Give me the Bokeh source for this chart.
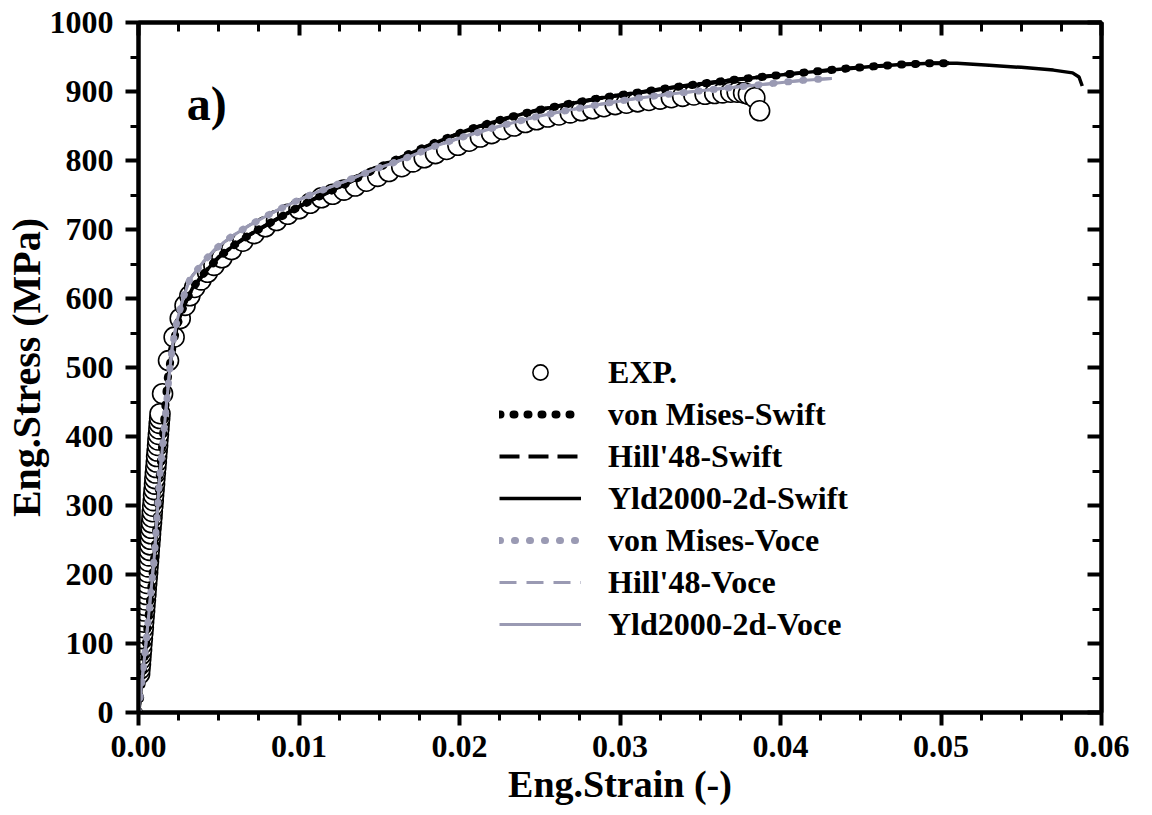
from bokeh.plotting import figure
from bokeh.models import (Range1d, LinearAxis, SingleIntervalTicker, PrintfTickFormatter,
                          CustomJSTickFormatter, Legend, LegendItem, Label)
from bokeh.embed import file_html
from bokeh.resources import INLINE

# ---- experimental engineering stress-strain data ----
exp_strain = [0.00007, 0.00009, 0.00012, 0.00014, 0.00016, 0.00019, 0.00021, 0.00024, 0.00027, 0.00030,
              0.00032, 0.00035, 0.00038, 0.00040, 0.00043, 0.00046, 0.00048, 0.00051, 0.00054, 0.00057,
              0.00059, 0.00062, 0.00065, 0.00067, 0.00070, 0.00073, 0.00075, 0.00078, 0.00081, 0.00084,
              0.00086, 0.00089, 0.00092, 0.00094, 0.00097, 0.00100, 0.00102, 0.00105, 0.00108, 0.00111,
              0.00113, 0.00116, 0.00119, 0.00121, 0.00124, 0.00127, 0.00129, 0.00132, 0.00134,
              0.00150, 0.00187, 0.00222, 0.0026, 0.0029, 0.0032, 0.0035, 0.0039, 0.0043, 0.0047,
              0.0052, 0.0058, 0.0065, 0.0072, 0.0079, 0.0086, 0.0093, 0.0100, 0.0107, 0.0114,
              0.0121, 0.0128, 0.0135, 0.0142, 0.0149, 0.0156, 0.0164, 0.0171, 0.0178, 0.0185,
              0.0192, 0.0199, 0.0206, 0.0213, 0.0220, 0.0227, 0.0234, 0.0241, 0.0248, 0.0255,
              0.0262, 0.0269, 0.0276, 0.0283, 0.0290, 0.0297, 0.0304, 0.0311, 0.0318, 0.0325,
              0.0332, 0.0339, 0.0346, 0.0353, 0.0359, 0.0364, 0.0369, 0.0373, 0.0377, 0.0380,
              0.0384, 0.0387]
exp_stress = [56, 63, 70, 77, 84, 91, 99, 107, 115, 123,
              131, 139, 147, 155, 163, 171, 179, 187, 195, 203,
              211, 219, 227, 235, 243, 251, 259, 267, 275, 283,
              291, 299, 307, 315, 323, 331, 339, 347, 355, 363,
              371, 379, 387, 395, 403, 411, 419, 426, 433,
              462, 510, 544, 571, 590, 604, 616, 627, 638, 648,
              659, 671, 683, 694, 704, 713, 722, 730, 738, 746,
              751, 757, 763, 770, 777, 784, 791, 798, 804, 810,
              816, 822, 828, 834, 839, 845, 850, 855, 859, 863,
              866, 869, 872, 875, 878, 881, 883, 885, 887, 889,
              891, 893, 895, 896, 897, 898, 899, 899, 898, 896,
              891, 872]

# ---- simulated curves, Swift hardening ----
swift_strain = [0, 0.00044, 0.0010, 0.0013, 0.0018, 0.0021, 0.0024, 0.0028, 0.00336, 0.0042,
                0.0050, 0.0060, 0.0069, 0.0080, 0.0090, 0.0100, 0.0110, 0.0120, 0.0131, 0.0147,
                0.0164, 0.0185, 0.0206, 0.0227, 0.0247, 0.0268, 0.0289, 0.0310, 0.0330, 0.0350,
                0.0371, 0.0392, 0.0413, 0.0435, 0.0455, 0.0475, 0.0494, 0.0510, 0.0530, 0.0550,
                0.0570, 0.0582, 0.0586, 0.0588]
swift_stress = [0, 94, 230, 336, 481, 527, 560, 588, 615, 640,
                660, 678, 692, 707, 720, 733, 745, 756, 768, 787,
                805, 826, 845, 860, 872, 882, 891, 898, 905, 911,
                917, 922, 927, 932, 936, 939, 941, 941, 938, 935,
                931, 927, 921, 908]

# ---- simulated curves, Voce hardening ----
voce_strain = [0, 0.00044, 0.0010, 0.0013, 0.0019, 0.0021, 0.0024, 0.0028, 0.0032, 0.0040,
               0.0048, 0.0058, 0.0069, 0.0080, 0.0090, 0.0100, 0.0110, 0.0121, 0.0131, 0.0147,
               0.0164, 0.0185, 0.0206, 0.0227, 0.0247, 0.0268, 0.0289, 0.0310, 0.0330, 0.0350,
               0.0371, 0.0392, 0.0413, 0.0432]
voce_stress = [0, 94, 230, 336, 486, 529, 568, 602, 628, 652,
               672, 690, 706, 720, 732, 743, 753, 763, 772, 787,
               801, 821, 837, 851, 863, 873, 882, 890, 896, 901,
               906, 911, 916, 919]

# number of Swift points carried by each yield criterion
swift_points = {"von Mises-Swift": 38, "Hill'48-Swift": 38, "Yld2000-2d-Swift": len(swift_strain)}
voce_points = {"von Mises-Voce": len(voce_strain), "Hill'48-Voce": len(voce_strain),
               "Yld2000-2d-Voce": len(voce_strain)}

BLACK = "#000000"
GREY = "#9a9ab3"
FONT = "Liberation Serif"

p = figure(width=1152, height=815, output_backend="svg", toolbar_location=None,
           x_range=Range1d(0, 0.06), y_range=Range1d(0, 1000),
           min_border_left=136, min_border_right=51, min_border_top=22, min_border_bottom=103)
p.grid.visible = False
p.background_fill_color = "white"
p.border_fill_color = "white"
p.outline_line_color = BLACK
p.outline_line_width = 4

xt = SingleIntervalTicker(interval=0.01, num_minor_ticks=4)
yt = SingleIntervalTicker(interval=100, num_minor_ticks=2)

xa = p.xaxis[0]
xa.ticker = xt
xa.formatter = PrintfTickFormatter(format="%.2f")
ya = p.yaxis[0]
ya.ticker = yt
ya.formatter = PrintfTickFormatter(format="%d")

for ax in (xa, ya):
    ax.axis_line_width = 4
    ax.major_tick_line_width = 4
    ax.minor_tick_line_width = 3
    ax.major_tick_out = 13
    ax.major_tick_in = 0
    ax.minor_tick_out = 8
    ax.minor_tick_in = 0
    ax.major_label_text_font = FONT
    ax.major_label_text_font_style = "bold"
    ax.major_label_text_font_size = "32px"
    ax.major_label_text_color = BLACK
    ax.axis_label_text_font = FONT
    ax.axis_label_text_font_style = "bold"
    ax.axis_label_text_color = BLACK

xa.axis_label = "Eng.Strain (-)"
ya.axis_label = "Eng.Stress (MPa)"
xa.axis_label_text_font_size = "38px"
ya.axis_label_text_font_size = "40px"
xa.major_label_standoff = 10
ya.major_label_standoff = 12
xa.axis_label_standoff = 3
ya.axis_label_standoff = -2

# inward ticks on the top and right edges of the frame
blank = CustomJSTickFormatter(code="return ''")
top = LinearAxis(ticker=SingleIntervalTicker(interval=0.01, num_minor_ticks=4), formatter=blank,
                 axis_line_width=4, major_tick_line_width=4, minor_tick_line_width=3,
                 major_tick_in=13, major_tick_out=0, minor_tick_in=9, minor_tick_out=0,
                 major_label_text_font_size="1px")
right = LinearAxis(ticker=SingleIntervalTicker(interval=100, num_minor_ticks=2), formatter=blank,
                   axis_line_width=4, major_tick_line_width=4, minor_tick_line_width=3,
                   major_tick_in=14, major_tick_out=0, minor_tick_in=9, minor_tick_out=0,
                   major_label_text_font_size="1px")
p.add_layout(top, "above")
p.add_layout(right, "right")

# experimental points
r_exp = p.scatter(exp_strain, exp_stress, marker="circle", size=20, fill_color="white",
                  line_color=BLACK, line_width=1.6)

styles = {
    "von Mises-Swift": dict(line_color=BLACK, line_width=8, line_dash="1 13", line_cap="round"),
    "Hill'48-Swift": dict(line_color=BLACK, line_width=4, line_dash="20 9"),
    "Yld2000-2d-Swift": dict(line_color=BLACK, line_width=3.5),
    "von Mises-Voce": dict(line_color=GREY, line_width=7, line_dash="1 14", line_cap="round"),
    "Hill'48-Voce": dict(line_color=GREY, line_width=3, line_dash="17 10"),
    "Yld2000-2d-Voce": dict(line_color=GREY, line_width=3),
}

renderers = {}
for name, n in swift_points.items():
    renderers[name] = p.line(swift_strain[:n], swift_stress[:n], **styles[name])
for name, n in voce_points.items():
    renderers[name] = p.line(voce_strain[:n], voce_stress[:n], **styles[name])

items = [LegendItem(label="EXP.", renderers=[r_exp])]
for name in ["von Mises-Swift", "Hill'48-Swift", "Yld2000-2d-Swift",
             "von Mises-Voce", "Hill'48-Voce", "Yld2000-2d-Voce"]:
    items.append(LegendItem(label=name, renderers=[renderers[name]]))

legend = Legend(items=items, location=(361, 69), orientation="vertical",
                border_line_color=None, background_fill_alpha=0,
                padding=0, margin=0, spacing=4,
                glyph_width=82, glyph_height=38, label_height=38, label_standoff=27,
                label_text_font=FONT, label_text_font_style="bold",
                label_text_font_size="32px", label_text_color=BLACK)
p.add_layout(legend, "center")

p.add_layout(Label(x=0.003, y=883, text="a)", text_font=FONT, text_font_style="bold",
                   text_font_size="48px", text_color=BLACK, text_baseline="alphabetic"))

open("out.html", "w").write(file_html(p, INLINE))
